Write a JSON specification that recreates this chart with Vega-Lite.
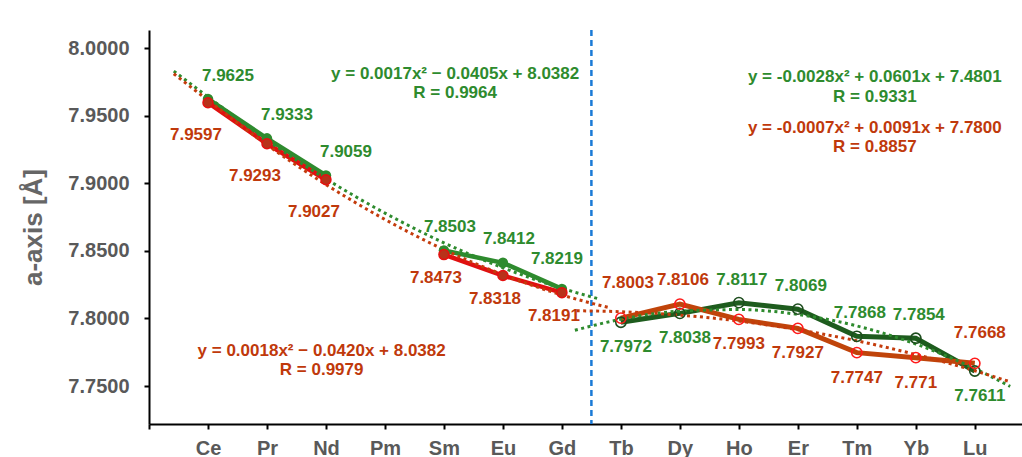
{
  "$schema": "https://vega.github.io/schema/vega-lite/v6.json",
  "width": 873,
  "height": 394,
  "autosize": {"type": "none"},
  "padding": {"left": 149, "top": 30, "right": 0, "bottom": 33},
  "background": "white",
  "config": {"view": {"stroke": null}, "font": "Liberation Sans"},
  "datasets": {
    "pts": [
      {"el": "Ce", "Z": 58, "series": "green", "a": 7.9625},
      {"el": "Pr", "Z": 59, "series": "green", "a": 7.9333},
      {"el": "Nd", "Z": 60, "series": "green", "a": 7.9059},
      {"el": "Sm", "Z": 62, "series": "green", "a": 7.8503},
      {"el": "Eu", "Z": 63, "series": "green", "a": 7.8412},
      {"el": "Gd", "Z": 64, "series": "green", "a": 7.8219},
      {"el": "Tb", "Z": 65, "series": "green", "a": 7.7972},
      {"el": "Dy", "Z": 66, "series": "green", "a": 7.8038},
      {"el": "Ho", "Z": 67, "series": "green", "a": 7.8117},
      {"el": "Er", "Z": 68, "series": "green", "a": 7.8069},
      {"el": "Tm", "Z": 69, "series": "green", "a": 7.7868},
      {"el": "Yb", "Z": 70, "series": "green", "a": 7.7854},
      {"el": "Lu", "Z": 71, "series": "green", "a": 7.7611},
      {"el": "Ce", "Z": 58, "series": "red", "a": 7.9597},
      {"el": "Pr", "Z": 59, "series": "red", "a": 7.9293},
      {"el": "Nd", "Z": 60, "series": "red", "a": 7.9027},
      {"el": "Sm", "Z": 62, "series": "red", "a": 7.8473},
      {"el": "Eu", "Z": 63, "series": "red", "a": 7.8318},
      {"el": "Gd", "Z": 64, "series": "red", "a": 7.8191},
      {"el": "Tb", "Z": 65, "series": "red", "a": 7.8003},
      {"el": "Dy", "Z": 66, "series": "red", "a": 7.8106},
      {"el": "Ho", "Z": 67, "series": "red", "a": 7.7993},
      {"el": "Er", "Z": 68, "series": "red", "a": 7.7927},
      {"el": "Tm", "Z": 69, "series": "red", "a": 7.7747},
      {"el": "Yb", "Z": 70, "series": "red", "a": 7.771},
      {"el": "Lu", "Z": 71, "series": "red", "a": 7.7668}
    ],
    "fits": [
      {"curve": "green Ce-Gd", "Z": 57.42, "a": 7.9831},
      {"curve": "green Ce-Gd", "Z": 58, "a": 7.964},
      {"curve": "green Ce-Gd", "Z": 59, "a": 7.932},
      {"curve": "green Ce-Gd", "Z": 60, "a": 7.9033},
      {"curve": "green Ce-Gd", "Z": 61, "a": 7.878},
      {"curve": "green Ce-Gd", "Z": 62, "a": 7.856},
      {"curve": "green Ce-Gd", "Z": 63, "a": 7.8375},
      {"curve": "green Ce-Gd", "Z": 64, "a": 7.8223},
      {"curve": "green Ce-Gd", "Z": 64.6, "a": 7.8148},
      {"curve": "red Ce-Gd", "Z": 57.42, "a": 7.9811},
      {"curve": "red Ce-Gd", "Z": 58, "a": 7.9615},
      {"curve": "red Ce-Gd", "Z": 59, "a": 7.9285},
      {"curve": "red Ce-Gd", "Z": 60, "a": 7.8991},
      {"curve": "red Ce-Gd", "Z": 61, "a": 7.8733},
      {"curve": "red Ce-Gd", "Z": 62, "a": 7.851},
      {"curve": "red Ce-Gd", "Z": 63, "a": 7.8324},
      {"curve": "red Ce-Gd", "Z": 64, "a": 7.8174},
      {"curve": "red Ce-Gd", "Z": 64.8, "a": 7.808},
      {"curve": "green Tb-Lu", "Z": 64.22, "a": 7.7913},
      {"curve": "green Tb-Lu", "Z": 65, "a": 7.7994},
      {"curve": "green Tb-Lu", "Z": 66, "a": 7.8054},
      {"curve": "green Tb-Lu", "Z": 67, "a": 7.8066},
      {"curve": "green Tb-Lu", "Z": 68, "a": 7.803},
      {"curve": "green Tb-Lu", "Z": 69, "a": 7.7945},
      {"curve": "green Tb-Lu", "Z": 70, "a": 7.7811},
      {"curve": "green Tb-Lu", "Z": 71, "a": 7.7629},
      {"curve": "green Tb-Lu", "Z": 71.6, "a": 7.7497},
      {"curve": "red Tb-Lu", "Z": 64.25, "a": 7.8057},
      {"curve": "red Tb-Lu", "Z": 65, "a": 7.805},
      {"curve": "red Tb-Lu", "Z": 66, "a": 7.8025},
      {"curve": "red Tb-Lu", "Z": 67, "a": 7.7981},
      {"curve": "red Tb-Lu", "Z": 68, "a": 7.7917},
      {"curve": "red Tb-Lu", "Z": 69, "a": 7.7835},
      {"curve": "red Tb-Lu", "Z": 70, "a": 7.7733},
      {"curve": "red Tb-Lu", "Z": 71, "a": 7.7613},
      {"curve": "red Tb-Lu", "Z": 71.6, "a": 7.7531}
    ]
  },
  "layer": [
    {
      "data": {"values": [{}]},
      "mark": {"type": "rule", "color": "#1a7ad6", "strokeWidth": 2.5, "strokeDash": [6, 4]},
      "encoding": {
        "x": {"datum": 64.5, "type": "quantitative"},
        "y": {"datum": 8.0135, "type": "quantitative"},
        "y2": {"datum": 7.7219}
      }
    },
    {
      "encoding": {
        "x": {
          "field": "Z",
          "type": "quantitative",
          "scale": {"domain": [57, 71.8], "nice": false, "zero": false},
          "axis": {
            "values": [57, 58, 59, 60, 61, 62, 63, 64, 65, 66, 67, 68, 69, 70, 71],
            "labelExpr": "['','Ce','Pr','Nd','Pm','Sm','Eu','Gd','Tb','Dy','Ho','Er','Tm','Yb','Lu'][datum.value - 57]",
            "title": null,
            "grid": false,
            "domainColor": "#000000",
            "domainWidth": 2,
            "tickColor": "#000000",
            "tickWidth": 2,
            "tickSize": 5,
            "labelFont": "Liberation Sans",
            "labelFontSize": 20,
            "labelFontWeight": "bold",
            "labelColor": "#595959",
            "labelPadding": 9,
            "labelFlush": false,
            "labelOverlap": false
          }
        },
        "y": {
          "field": "a",
          "type": "quantitative",
          "scale": {"domain": [7.7219, 8.0135], "nice": false, "zero": false},
          "axis": {
            "values": [7.75, 7.8, 7.85, 7.9, 7.95, 8.0],
            "format": ".4f",
            "title": "a-axis [Å]",
            "titleFont": "Liberation Sans",
            "titleFontSize": 26,
            "titleFontWeight": "bold",
            "titleColor": "#666666",
            "titlePadding": 21,
            "grid": false,
            "domainColor": "#000000",
            "domainWidth": 2,
            "tickColor": "#000000",
            "tickWidth": 2,
            "tickSize": 5,
            "labelFont": "Liberation Sans",
            "labelFontSize": 20,
            "labelFontWeight": "bold",
            "labelColor": "#595959",
            "labelPadding": 15,
            "labelFlush": false,
            "labelOverlap": false
          }
        }
      },
      "layer": [
        {
          "data": {"name": "pts"},
          "transform": [{"filter": "datum.series == 'green' && datum.Z <= 60"}],
          "mark": {"type": "line", "color": "#2e8b2e", "strokeWidth": 4.5}
        },
        {
          "data": {"name": "pts"},
          "transform": [{"filter": "datum.series == 'green' && datum.Z >= 62 && datum.Z <= 64"}],
          "mark": {"type": "line", "color": "#2e8b2e", "strokeWidth": 4.5}
        },
        {
          "data": {"name": "pts"},
          "transform": [{"filter": "datum.series == 'red' && datum.Z <= 60"}],
          "mark": {"type": "line", "color": "#e01010", "strokeWidth": 4.5}
        },
        {
          "data": {"name": "pts"},
          "transform": [{"filter": "datum.series == 'red' && datum.Z >= 62 && datum.Z <= 64"}],
          "mark": {"type": "line", "color": "#e01010", "strokeWidth": 4.5}
        },
        {
          "data": {"name": "pts"},
          "transform": [{"filter": "datum.series == 'green' && datum.Z >= 65"}],
          "mark": {"type": "line", "color": "#1e5c1e", "strokeWidth": 5}
        },
        {
          "data": {"name": "pts"},
          "transform": [{"filter": "datum.series == 'red' && datum.Z >= 65"}],
          "mark": {"type": "line", "color": "#c0440a", "strokeWidth": 5}
        },
        {
          "data": {"name": "fits"},
          "mark": {"type": "line", "strokeWidth": 3, "strokeDash": [3, 3.5], "interpolate": "monotone"},
          "encoding": {
            "color": {
              "field": "curve",
              "type": "nominal",
              "scale": {
                "domain": ["green Ce-Gd", "red Ce-Gd", "green Tb-Lu", "red Tb-Lu"],
                "range": ["#2e8b2e", "#c43c0c", "#2e8b2e", "#c43c0c"]
              },
              "legend": null
            }
          }
        },
        {
          "data": {"name": "pts"},
          "transform": [{"filter": "datum.series == 'green' && datum.Z <= 64"}],
          "mark": {"type": "point", "shape": "circle", "filled": true, "color": "#2e8b2e", "size": 110, "opacity": 1}
        },
        {
          "data": {"name": "pts"},
          "transform": [{"filter": "datum.series == 'red' && datum.Z <= 64"}],
          "mark": {"type": "point", "shape": "circle", "filled": true, "fill": "#b8321a", "stroke": "#e51010", "strokeWidth": 1.5, "size": 100, "opacity": 1}
        },
        {
          "data": {"name": "pts"},
          "transform": [{"filter": "datum.series == 'green' && datum.Z >= 65"}],
          "mark": {"type": "point", "shape": "circle", "filled": false, "color": "#1e4d1e", "strokeWidth": 1.6, "size": 105, "opacity": 1}
        },
        {
          "data": {"name": "pts"},
          "transform": [{"filter": "datum.series == 'red' && datum.Z >= 65"}],
          "mark": {"type": "point", "shape": "circle", "filled": false, "color": "#ff1a1a", "strokeWidth": 1.6, "size": 105, "opacity": 1}
        },
        {
          "data": {"name": "pts"},
          "transform": [{"filter": "datum.series == 'green' && datum.Z <= 60"}],
          "mark": {"type": "text", "dx": 20, "dy": -23, "fontSize": 17, "fontWeight": "bold", "color": "#2e8b2e"},
          "encoding": {"text": {"field": "a", "type": "nominal"}}
        },
        {
          "data": {"name": "pts"},
          "transform": [{"filter": "datum.series == 'green' && (datum.el == 'Sm' || datum.el == 'Eu')"}],
          "mark": {"type": "text", "dx": 6, "dy": -24, "fontSize": 17, "fontWeight": "bold", "color": "#2e8b2e"},
          "encoding": {"text": {"field": "a", "type": "nominal"}}
        },
        {
          "data": {"name": "pts"},
          "transform": [{"filter": "datum.series == 'green' && datum.el == 'Gd'"}],
          "mark": {"type": "text", "dx": -5, "dy": -30, "fontSize": 17, "fontWeight": "bold", "color": "#2e8b2e"},
          "encoding": {"text": {"field": "a", "type": "nominal"}}
        },
        {
          "data": {"name": "pts"},
          "transform": [{"filter": "datum.series == 'green' && (datum.el == 'Tb' || datum.el == 'Dy' || datum.el == 'Lu')"}],
          "mark": {"type": "text", "dx": 5, "dy": 25, "fontSize": 17, "fontWeight": "bold", "color": "#2e8b2e"},
          "encoding": {"text": {"field": "a", "type": "nominal"}}
        },
        {
          "data": {"name": "pts"},
          "transform": [{"filter": "datum.series == 'green' && datum.Z >= 67 && datum.Z <= 70"}],
          "mark": {"type": "text", "dx": 3, "dy": -23, "fontSize": 17, "fontWeight": "bold", "color": "#2e8b2e"},
          "encoding": {"text": {"field": "a", "type": "nominal"}}
        },
        {
          "data": {"name": "pts"},
          "transform": [{"filter": "datum.series == 'red' && datum.Z <= 60"}],
          "mark": {"type": "text", "dx": -12, "dy": 32, "fontSize": 17, "fontWeight": "bold", "color": "#c0390b"},
          "encoding": {"text": {"field": "a", "type": "nominal"}}
        },
        {
          "data": {"name": "pts"},
          "transform": [{"filter": "datum.series == 'red' && datum.Z >= 62 && datum.Z <= 64"}],
          "mark": {"type": "text", "dx": -8, "dy": 23, "fontSize": 17, "fontWeight": "bold", "color": "#c0390b"},
          "encoding": {"text": {"field": "a", "type": "nominal"}}
        },
        {
          "data": {"name": "pts"},
          "transform": [{"filter": "datum.series == 'red' && datum.el == 'Tb'"}],
          "mark": {"type": "text", "dx": 7, "dy": -35, "fontSize": 17, "fontWeight": "bold", "color": "#c0390b"},
          "encoding": {"text": {"field": "a", "type": "nominal"}}
        },
        {
          "data": {"name": "pts"},
          "transform": [{"filter": "datum.series == 'red' && datum.el == 'Dy'"}],
          "mark": {"type": "text", "dx": 3, "dy": -24, "fontSize": 17, "fontWeight": "bold", "color": "#c0390b"},
          "encoding": {"text": {"field": "a", "type": "nominal"}}
        },
        {
          "data": {"name": "pts"},
          "transform": [{"filter": "datum.series == 'red' && datum.Z >= 67 && datum.Z <= 70"}],
          "mark": {"type": "text", "dx": 0, "dy": 25, "fontSize": 17, "fontWeight": "bold", "color": "#c0390b"},
          "encoding": {"text": {"field": "a", "type": "nominal"}}
        },
        {
          "data": {"name": "pts"},
          "transform": [{"filter": "datum.series == 'red' && datum.el == 'Lu'"}],
          "mark": {"type": "text", "dx": 5, "dy": -30, "fontSize": 17, "fontWeight": "bold", "color": "#c0390b"},
          "encoding": {"text": {"field": "a", "type": "nominal"}}
        }
      ]
    },
    {
      "data": {"values": [{}]},
      "mark": {"type": "text", "text": ["y = 0.0017x² − 0.0405x + 8.0382", "R = 0.9964"], "lineHeight": 19, "fontSize": 17, "fontWeight": "bold", "color": "#2e8b2e"},
      "encoding": {
        "x": {"datum": 62.19, "type": "quantitative"},
        "y": {"datum": 7.98083, "type": "quantitative"}
      }
    },
    {
      "data": {"values": [{}]},
      "mark": {"type": "text", "text": ["y = -0.0028x² + 0.0601x + 7.4801", "R = 0.9331"], "lineHeight": 20, "fontSize": 17, "fontWeight": "bold", "color": "#2e8b2e"},
      "encoding": {
        "x": {"datum": 69.305, "type": "quantitative"},
        "y": {"datum": 7.97898, "type": "quantitative"}
      }
    },
    {
      "data": {"values": [{}]},
      "mark": {"type": "text", "text": ["y = -0.0007x² + 0.0091x + 7.7800", "R = 0.8857"], "lineHeight": 19, "fontSize": 17, "fontWeight": "bold", "color": "#c0390b"},
      "encoding": {
        "x": {"datum": 69.305, "type": "quantitative"},
        "y": {"datum": 7.94115, "type": "quantitative"}
      }
    },
    {
      "data": {"values": [{}]},
      "mark": {"type": "text", "text": ["y = 0.0018x² − 0.0420x + 8.0382", "R = 0.9979"], "lineHeight": 19, "fontSize": 17, "fontWeight": "bold", "color": "#c0390b"},
      "encoding": {
        "x": {"datum": 59.927, "type": "quantitative"},
        "y": {"datum": 7.77598, "type": "quantitative"}
      }
    }
  ]
}
